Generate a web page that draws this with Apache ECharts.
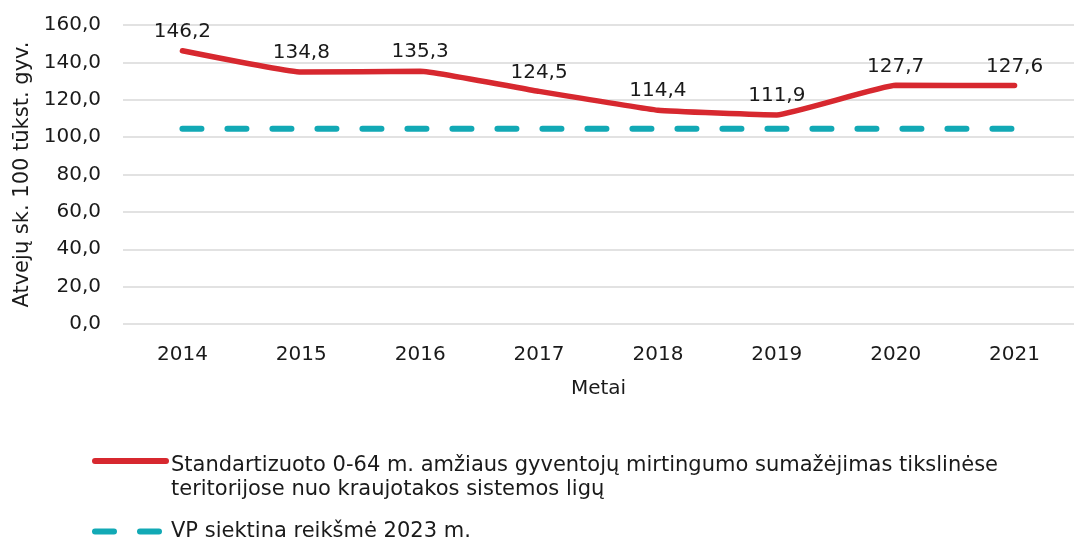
<!DOCTYPE html>
<html>
<head>
<meta charset="utf-8">
<script src="https://cdn.jsdelivr.net/npm/echarts@6/dist/echarts.min.js"></script>
<style>
  html, body { margin: 0; padding: 0; background: #fff; }
  #chart { width: 1074px; height: 541px; }
</style>
</head>
<body>
<div id="chart"></div>
<script>
// duomenys
const years = ['2014', '2015', '2016', '2017', '2018', '2019', '2020', '2021'];
const mortality = [146.2, 134.8, 135.3, 124.5, 114.4, 111.9, 127.7, 127.6];
const target = [104.5, 104.5, 104.5, 104.5, 104.5, 104.5, 104.5, 104.5];

const nameMain = 'Standartizuoto 0-64 m. amžiaus gyventojų mirtingumo sumažėjimas tikslinėse\nteritorijose nuo kraujotakos sistemos ligų';
const nameTarget = 'VP siektina reikšmė 2023 m.';

const fmt = v => v.toFixed(1).replace('.', ',');
const font = 'DejaVu Sans';
const txt = '#1a1a1a';
const red = '#d7282f';
const teal = '#12a9b5';

const chart = echarts.init(document.getElementById('chart'));

const option = {
    animation: false,
    textStyle: { fontFamily: font, color: txt },
    grid: { left: 123, right: -16, top: 25, bottom: 217 },
    legend: [
        {
            data: [nameMain],
            left: 92,
            top: 432,
            padding: 0,
            itemWidth: 71,
            itemHeight: 12,
            itemStyle: { opacity: 0 },
            lineStyle: { width: 6, color: red, type: 'solid' },
            // tarpas viršuje, kad ikona būtų prie pirmos eilutės
            formatter: name => '{s| }\n' + name.split('\n').map(l => '{t|' + l + '}').join('\n'),
            textStyle: {
                fontSize: 21, fontFamily: font, color: txt,
                rich: {
                    s: { fontSize: 10, lineHeight: 34 },
                    t: { fontSize: 21, fontFamily: font, color: txt, lineHeight: 24 }
                }
            }
        },
        {
            data: [nameTarget],
            left: 92,
            top: 521,
            padding: 0,
            itemWidth: 71,
            itemHeight: 12,
            itemStyle: { opacity: 0 },
            lineStyle: { width: 6, color: teal, type: [19, 26], cap: 'round' },
            textStyle: { fontSize: 21, fontFamily: font, color: txt }
        }
    ],
    xAxis: {
        type: 'category',
        data: years,
        name: 'Metai',
        nameLocation: 'middle',
        nameGap: 55,
        nameTextStyle: { fontSize: 20, fontFamily: font, color: txt },
        axisLine: { show: false },
        axisTick: { show: false },
        axisLabel: { fontSize: 20, fontFamily: font, color: txt, margin: 21 }
    },
    yAxis: {
        type: 'value',
        min: 0,
        max: 160,
        interval: 20,
        name: 'Atvejų sk. 100 tūkst. gyv.',
        nameLocation: 'middle',
        nameRotate: 90,
        nameGap: 84,
        nameTextStyle: { fontSize: 21, fontFamily: font, color: txt },
        axisLabel: { fontSize: 20, fontFamily: font, color: txt, margin: 22, formatter: v => fmt(v) },
        splitLine: { lineStyle: { color: '#d9d9d9', width: 1.5 } }
    },
    series: [
        {
            name: nameMain,
            type: 'line',
            data: mortality,
            smooth: 0.1,
            symbol: 'circle',
            symbolSize: 2,
            showSymbol: true,
            itemStyle: { color: red },
            lineStyle: { width: 5.5, color: red, cap: 'round' },
            label: {
                show: true,
                position: 'top',
                distance: 8,
                fontSize: 20,
                fontFamily: font,
                color: txt,
                formatter: p => fmt(p.value)
            },
            z: 3
        },
        {
            name: nameTarget,
            type: 'line',
            data: target,
            symbol: 'none',
            itemStyle: { color: teal },
            lineStyle: { width: 6, color: teal, type: [19, 26], cap: 'round' },
            z: 2
        }
    ]
};

chart.setOption(option);
</script>
</body>
</html>
